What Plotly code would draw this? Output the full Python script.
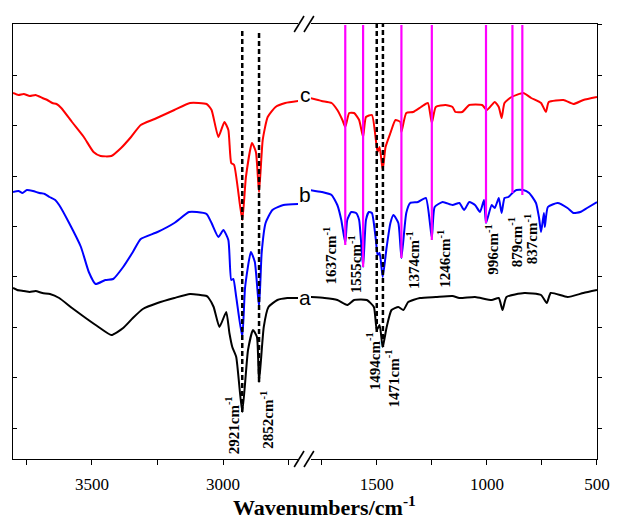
import plotly.graph_objects as go

# ---------------- data (wavenumber in cm-1, transmittance in arbitrary units) -------------
# curve c (red)
c_left_wn = [3801, 3780, 3760, 3737, 3715, 3689, 3670, 3651, 3635, 3617, 3576, 3531, 3494, 3467, 3426,
             3389, 3351, 3314, 3261, 3186, 3126, 3063, 3044, 3018, 2995, 2980, 2969, 2958, 2927, 2913,
             2890, 2875, 2863, 2849, 2830, 2800, 2763, 2714]
c_left_T = [366, 364, 365, 363, 364, 361, 359, 356, 355, 351, 337, 322, 307, 303, 303,
            311, 322, 334, 340, 349, 356, 355, 349, 322, 337, 329, 296, 294, 239, 282,
            316, 307, 267, 319, 342, 352, 356, 358]
c_right_wn = [1804, 1750, 1705, 1679, 1656, 1643, 1625, 1603, 1580, 1562, 1549, 1522, 1504, 1496, 1487,
              1473, 1460, 1438, 1415, 1393, 1388, 1366, 1335, 1299, 1268, 1250, 1232, 1188, 1156, 1143,
              1112, 1080, 1022, 1000, 964, 946, 933, 920, 888, 835, 799, 754, 732, 719, 652, 607, 562, 500]
c_right_T = [361, 358, 356, 349, 339, 332, 346, 346, 339, 322, 342, 344, 319, 307, 312,
             289, 312, 326, 339, 337, 327, 346, 347, 352, 356, 336, 352, 354, 352, 347,
             347, 354, 354, 349, 357, 352, 341, 356, 362, 366, 361, 356, 347, 357, 359, 355, 359, 362]

# curve b (blue)
b_left_wn = [3801, 3780, 3765, 3748, 3725, 3700, 3680, 3662, 3640, 3625, 3587, 3542, 3512, 3486, 3449,
             3419, 3381, 3344, 3314, 3250, 3186, 3130, 3100, 3063, 3044, 3018, 2999, 2980, 2969, 2961,
             2950, 2927, 2916, 2894, 2879, 2863, 2853, 2838, 2812, 2770, 2714]
b_left_T = [267, 268, 266, 269, 268, 266, 265, 262, 259, 254, 236, 212, 187, 175, 179,
            180, 192, 207, 220, 227, 236, 247, 247, 245, 236, 222, 229, 219, 179, 180,
            162, 122, 172, 207, 197, 152, 206, 236, 249, 254, 255]
b_right_wn = [1804, 1750, 1705, 1679, 1661, 1643, 1634, 1616, 1594, 1580, 1562, 1549, 1536, 1522, 1504,
              1496, 1487, 1473, 1455, 1438, 1424, 1402, 1388, 1366, 1348, 1313, 1277, 1250, 1237, 1201,
              1156, 1125, 1103, 1080, 1054, 1031, 1013, 1004, 978, 964, 946, 933, 920, 902, 884,
              866, 835, 808, 777, 763, 754, 741, 737, 723, 679, 634, 607, 576, 545, 500]
b_right_T = [269, 267, 264, 254, 239, 216, 239, 247, 246, 239, 192, 239, 247, 246, 219,
             204, 206, 182, 212, 236, 244, 236, 201, 246, 256, 257, 261, 221, 252, 257,
             254, 256, 249, 257, 254, 247, 259, 236, 254, 251, 261, 246, 261, 262, 266,
             269, 269, 266, 256, 241, 227, 246, 232, 252, 256, 251, 246, 247, 251, 257]

# curve a (black)
a_left_wn = [3801, 3785, 3760, 3737, 3715, 3689, 3660, 3625, 3576, 3524, 3475, 3426, 3381, 3344, 3306,
             3250, 3186, 3126, 3063, 3055, 3036, 3014, 2988, 2976, 2965, 2950, 2927, 2905, 2886, 2871,
             2863, 2845, 2827, 2793, 2755, 2714]
a_left_T = [171, 169, 168, 167, 168, 166, 165, 161, 151, 141, 132, 124, 131, 141, 150,
            156, 161, 165, 163, 161, 152, 132, 147, 126, 112, 102, 47, 109, 129, 122,
            77, 132, 152, 159, 161, 161]
a_right_wn = [1804, 1737, 1679, 1634, 1603, 1545, 1513, 1500, 1487, 1473, 1455, 1433, 1402, 1379, 1357,
              1304, 1232, 1156, 1125, 1054, 978, 946, 929, 911, 830, 754, 728, 710, 634, 562, 500]
a_right_T = [162, 161, 159, 154, 159, 159, 152, 129, 134, 112, 132, 149, 152, 149, 157,
             161, 162, 163, 161, 162, 159, 161, 149, 162, 166, 164, 156, 166, 162, 166, 169]

# marker lines
magenta_wn = [1643, 1562, 1388, 1250, 1004, 884, 839]
magenta_bottom = [214, 192, 201, 219, 236, 266, 264]
magenta_top = 434
dash_left_wn = [2927, 2863]
dash_left_top = [431, 427]
dash_left_bottom = [47, 77]
dash_right_wn = [1500, 1472]
dash_right_top = [436, 436]
dash_right_bottom = [127, 112]

# peak labels: text, axis, x (cm-1), y (a.u.)
peak_labels = ["2921", "2852", "1494", "1471", "1637", "1555", "1374", "1246", "996", "879", "837"]
peak_label_axis = ["x", "x", "x2", "x2", "x2", "x2", "x2", "x2", "x2", "x2", "x2"]
peak_label_x = [2965, 2834, 1516, 1429, 1714, 1598, 1335, 1196, 978, 871, 799]
peak_label_y = [34, 39, 98, 81, 203, 195, 199, 200, 209, 217, 220]

curve_names = ["a", "b", "c"]
curve_colors = ["#000000", "#0000FF", "#FF0000"]
curve_label_y = [0.372, 0.607, 0.839]

x_left_range = [3801, 2714]
x_right_range = [1799, 500]
y_range = [0, 435]
left_ticks = [3750, 3500, 3250, 3000, 2750]
left_ticktext = ["", "3500", "", "3000", ""]
right_ticks = [1750, 1500, 1250, 1000, 750, 500]
right_ticktext = ["", "1500", "", "1000", "", "500"]

# ---------------- figure -------------
fig = go.Figure()
series = [(a_left_wn, a_left_T, a_right_wn, a_right_T),
          (b_left_wn, b_left_T, b_right_wn, b_right_T),
          (c_left_wn, c_left_T, c_right_wn, c_right_T)]
for (lw, lt, rw, rt), name, col in zip(series, curve_names, curve_colors):
    fig.add_trace(go.Scatter(x=lw, y=lt, mode="lines",
                             line=dict(color=col, width=2, shape="spline", smoothing=0.5),
                             xaxis="x", yaxis="y", showlegend=False, name=name))
    fig.add_trace(go.Scatter(x=rw, y=rt, mode="lines",
                             line=dict(color=col, width=2, shape="spline", smoothing=0.5),
                             xaxis="x2", yaxis="y2", showlegend=False, name=name))

shapes = []
for xv, yb in zip(magenta_wn, magenta_bottom):
    shapes.append(dict(type="line", xref="x2", yref="y", x0=xv, x1=xv, y0=yb, y1=magenta_top,
                       line=dict(color="#FF00FF", width=2.2)))
for xv, yt, yb in zip(dash_left_wn, dash_left_top, dash_left_bottom):
    shapes.append(dict(type="line", xref="x", yref="y", x0=xv, x1=xv, y0=yb, y1=yt,
                       line=dict(color="black", width=2.5, dash="5px,3px")))
for xv, yt, yb in zip(dash_right_wn, dash_right_top, dash_right_bottom):
    shapes.append(dict(type="line", xref="x2", yref="y", x0=xv, x1=xv, y0=yb, y1=yt,
                       line=dict(color="black", width=2.5, dash="5px,3px")))

# axis break marks "//" (paper coords, plot area 594 x 435 px)
W, H = 594.0, 435.0
for ybase in (0.0, 1.0):
    for xs in (286.0, 296.0):
        shapes.append(dict(type="line", xref="paper", yref="paper",
                           x0=xs / W, x1=(xs + 10) / W,
                           y0=ybase - 8 / H, y1=ybase + 8 / H,
                           line=dict(color="black", width=1.6)))

annotations = []
for t, ax, xv, yv in zip(peak_labels, peak_label_axis, peak_label_x, peak_label_y):
    annotations.append(dict(text="<b>" + t + "cm<sup>-1</sup></b>", xref=ax, yref="y", x=xv, y=yv,
                            textangle=-90, showarrow=False, xanchor="center", yanchor="middle",
                            font=dict(family="Liberation Serif", size=15, color="black")))
for name, yv in zip(curve_names, curve_label_y):
    annotations.append(dict(text=name, xref="paper", yref="paper", x=297 / W, y=yv,
                            showarrow=False, xanchor="center", yanchor="middle",
                            font=dict(family="Liberation Sans", size=21, color="black")))
annotations.append(dict(text="<b>Wavenumbers/cm<sup>-1</sup></b>", xref="paper", yref="paper",
                        x=317 / W, y=-47 / H, showarrow=False, xanchor="center", yanchor="middle",
                        font=dict(family="Liberation Serif", size=22, color="black")))

tickfont = dict(family="Liberation Serif", size=17, color="black")
fig.update_layout(
    width=622, height=517,
    margin=dict(l=13, r=15, t=24, b=58),
    paper_bgcolor="white", plot_bgcolor="white",
    showlegend=False,
    xaxis=dict(domain=[0, 290 / W], range=x_left_range, tickvals=left_ticks, ticktext=left_ticktext,
               ticks="outside", ticklen=5, tickwidth=1.3, tickcolor="black", showline=True,
               linecolor="black", linewidth=1.3, mirror=True, showgrid=False, zeroline=False,
               tickfont=tickfont, ticklabelstandoff=4, anchor="y"),
    xaxis2=dict(domain=[303 / W, 1], range=x_right_range, tickvals=right_ticks, ticktext=right_ticktext,
                ticks="outside", ticklen=5, tickwidth=1.3, tickcolor="black", showline=True,
                linecolor="black", linewidth=1.3, mirror=True, showgrid=False, zeroline=False,
                tickfont=tickfont, ticklabelstandoff=4, anchor="y2"),
    yaxis=dict(range=y_range, tick0=31, dtick=50.4, ticks="inside", ticklen=4, tickwidth=1.3,
               tickcolor="black", showticklabels=False, showline=True, linecolor="black",
               linewidth=1.3, showgrid=False, zeroline=False, anchor="x"),
    yaxis2=dict(range=y_range, tick0=31, dtick=50.4, ticks="outside", ticklen=4, tickwidth=1.3,
                tickcolor="black", showticklabels=False, showline=True, linecolor="black",
                linewidth=1.3, showgrid=False, zeroline=False, anchor="x2", side="right",
                overlaying="y"),
    shapes=shapes,
    annotations=annotations,
)

fig.write_html("out.html", config={"displayModeBar": False},
               post_script="document.body.style.margin='0px';document.body.style.overflow='hidden';")
